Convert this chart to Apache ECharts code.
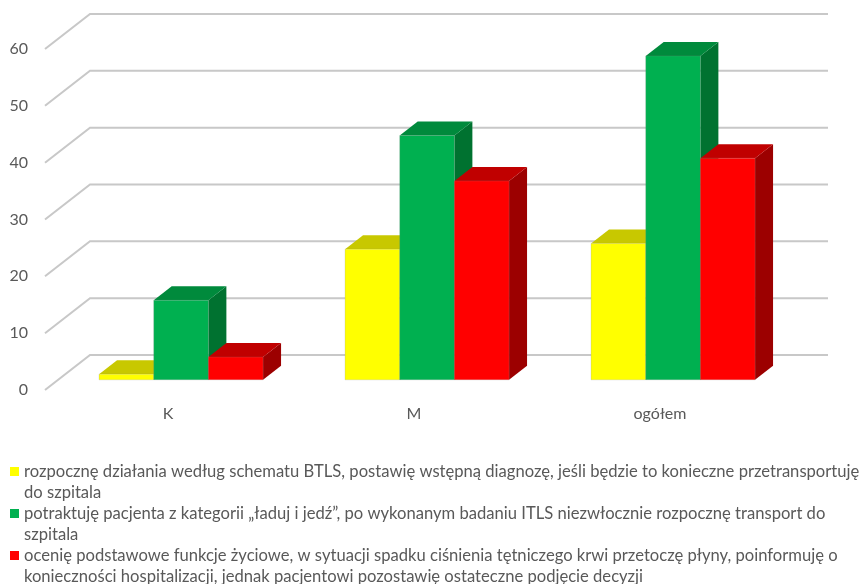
<!DOCTYPE html>
<html>
<head>
<meta charset="utf-8">
<script src="https://cdn.jsdelivr.net/npm/echarts@6/dist/echarts.min.js"></script>
<style>
  html, body { margin: 0; padding: 0; background: #ffffff; }
  #chart { width: 868px; height: 584px; }
</style>
</head>
<body>
<div id="chart"></div>
<script>
// Categories and answer counts per group
const categories = ['K', 'M', 'ogółem'];
const seriesNames = [
  'rozpocznę działania według schematu BTLS, postawię wstępną diagnozę, jeśli będzie to konieczne przetransportuję\ndo szpitala',
  'potraktuję pacjenta z kategorii „ładuj i jedź”, po wykonanym badaniu ITLS niezwłocznie rozpocznę transport do\nszpitala',
  'ocenię podstawowe funkcje życiowe, w sytuacji spadku ciśnienia tętniczego krwi przetoczę płyny, poinformuję o\nkonieczności hospitalizacji, jednak pacjentowi pozostawię ostateczne podjęcie decyzji'
];
const btlsValues = [1, 23, 24];
const loadAndGoValues = [14, 43, 57];
const vitalsValues = [4, 35, 39];
const yTicks = [0, 10, 20, 30, 40, 50, 60];

// Face colours of the 3D columns: front, top, right side
const palette = [
  { front: '#FFFF00', top: '#C8C800', side: '#A8A800' },
  { front: '#00B050', top: '#008A3C', side: '#007230' },
  { front: '#FF0000', top: '#C00000', side: '#9C0000' }
];

// Oblique projection: vector from the floor's front edge to the back wall
const DEPTH = [45, -35];
const BAR_FRONT = 0.29;   // column front face, as a fraction of the depth
const BAR_BACK = 0.69;    // column back face
const GAP_RATIO = 1.5;    // gap between groups, in column widths

const TEXT = '#595959';
const FONT = 'Lato';

function columnRenderer(k) {
  return function (params, api) {
    const cat = api.value(0);
    const v = api.value(1);
    const top = api.coord([cat, v]);
    const base = api.coord([cat, 0]);
    const band = api.size([1, 0])[0];
    const w = band / (3 + GAP_RATIO);
    const fx = DEPTH[0] * BAR_FRONT, fy = DEPTH[1] * BAR_FRONT;
    const bx = DEPTH[0] * (BAR_BACK - BAR_FRONT), by = DEPTH[1] * (BAR_BACK - BAR_FRONT);
    const x0 = base[0] - 1.5 * w + k * w + fx;
    const x1 = x0 + w;
    const yT = top[1] + fy;
    const yB = base[1] + fy;
    const c = palette[k];
    return {
      type: 'group',
      children: [
        { type: 'polygon', shape: { points: [[x1, yT], [x1 + bx, yT + by], [x1 + bx, yB + by], [x1, yB]] },
          style: { fill: c.side } },
        { type: 'polygon', shape: { points: [[x0, yT], [x1, yT], [x1 + bx, yT + by], [x0 + bx, yT + by]] },
          style: { fill: c.top } },
        { type: 'rect', shape: { x: x0, y: yT, width: w, height: yB - yT },
          style: { fill: c.front, stroke: 'rgba(140,140,140,0.35)', lineWidth: 0.6 } }
      ]
    };
  };
}

function columnSeries(name, values, k) {
  return {
    type: 'custom',
    name: name,
    z: 3,
    itemStyle: { color: palette[k].front },
    renderItem: columnRenderer(k),
    data: values.map((v, i) => [i, v])
  };
}

const chart = echarts.init(document.getElementById('chart'), null, { renderer: 'canvas' });

chart.setOption({
  animation: false,
  backgroundColor: '#ffffff',
  grid: { left: 45, top: 49, right: 85, bottom: 194 },
  xAxis: {
    type: 'category',
    data: categories,
    axisLine: { show: false },
    axisTick: { show: false },
    axisLabel: { color: TEXT, fontFamily: FONT, fontSize: 16, margin: 16 }
  },
  yAxis: {
    type: 'value',
    min: 0,
    max: 60,
    interval: 10,
    axisLine: { show: false },
    axisTick: { show: false },
    splitLine: { show: false },
    axisLabel: { color: TEXT, fontFamily: FONT, fontSize: 16, margin: 17 }
  },
  legend: {
    orient: 'vertical',
    left: 10,
    top: 440,
    height: 200,
    padding: 0,
    itemWidth: 9,
    itemHeight: 9,
    itemGap: -21,
    icon: 'rect',
    selectedMode: false,
    data: seriesNames,
    // a blank leading line keeps the marker level with the first text line
    formatter: function (name) { return '\n' + name; },
    textStyle: { color: TEXT, fontFamily: FONT, fontSize: 16.6, lineHeight: 21 }
  },
  series: [
    {
      // wall gridlines: diagonal along the side wall, then across the back wall
      type: 'custom',
      name: 'grid',
      z: 1,
      silent: true,
      renderItem: function (params, api) {
        const cs = params.coordSys;
        const y = api.coord([0, api.value(1)])[1];
        return {
          type: 'polyline',
          shape: { points: [[cs.x, y], [cs.x + DEPTH[0], y + DEPTH[1]], [cs.x + cs.width + DEPTH[0], y + DEPTH[1]]] },
          style: { stroke: '#c8c8c8', lineWidth: 2, fill: null }
        };
      },
      data: yTicks.map(t => [0, t])
    },
    columnSeries(seriesNames[0], btlsValues, 0),
    columnSeries(seriesNames[1], loadAndGoValues, 1),
    columnSeries(seriesNames[2], vitalsValues, 2)
  ]
});
</script>
</body>
</html>
